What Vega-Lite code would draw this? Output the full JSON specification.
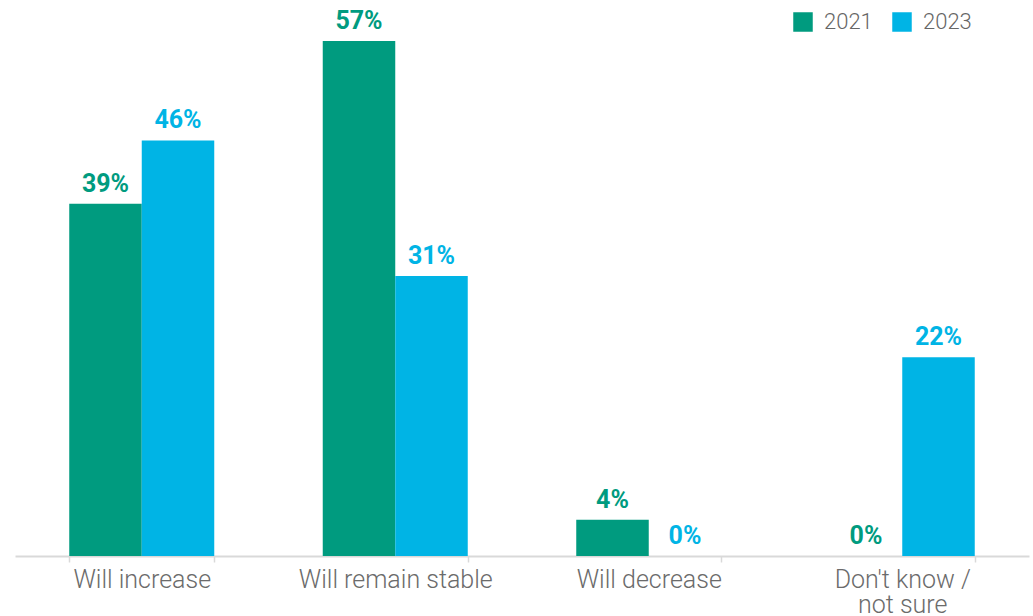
{
  "$schema": "https://vega.github.io/schema/vega-lite/v6.json",
  "width": 1014,
  "height": 542,
  "autosize": "none",
  "padding": {"left": 15, "top": 14, "right": 4, "bottom": 60},
  "background": "white",
  "config": {"view": {"stroke": null}, "font": "Roboto"},
  "data": {
    "values": [
      {"category": "Will increase", "year": "2021", "value": 39, "label": "39%"},
      {"category": "Will increase", "year": "2023", "value": 46, "label": "46%"},
      {"category": "Will remain stable", "year": "2021", "value": 57, "label": "57%"},
      {"category": "Will remain stable", "year": "2023", "value": 31, "label": "31%"},
      {"category": "Will decrease", "year": "2021", "value": 4, "label": "4%"},
      {"category": "Will decrease", "year": "2023", "value": 0, "label": "0%"},
      {"category": "Don't know / not sure", "year": "2021", "value": 0, "label": "0%"},
      {"category": "Don't know / not sure", "year": "2023", "value": 22, "label": "22%"}
    ]
  },
  "encoding": {
    "x": {
      "field": "category",
      "type": "nominal",
      "sort": null,
      "title": null,
      "scale": {"paddingInner": 0.428, "paddingOuter": 0.214},
      "axis": {
        "labelAngle": 0,
        "tickBand": "extent",
        "domainColor": "#d9d9d9",
        "domainWidth": 2,
        "tickColor": "#d9d9d9",
        "tickWidth": 1.5,
        "tickSize": 6,
        "labelFontSize": 25,
        "labelFont": "Roboto",
        "labelFontWeight": 300,
        "labelColor": "#6b6b6b",
        "labelPadding": 5,
        "labelLimit": 0,
        "labelLineHeight": 25,
        "labelOverlap": false,
        "labelExpr": "datum.label == \"Don't know / not sure\" ? [\"Don't know /\", \"not sure\"] : datum.label"
      }
    },
    "xOffset": {"field": "year", "type": "nominal"},
    "y": {
      "field": "value",
      "type": "quantitative",
      "scale": {"domain": [0, 60], "nice": false},
      "axis": null
    },
    "color": {
      "field": "year",
      "type": "nominal",
      "scale": {"domain": ["2021", "2023"], "range": ["#009B7F", "#00B4E5"]},
      "legend": {
        "title": null,
        "orient": "none",
        "legendX": 777,
        "legendY": -3,
        "direction": "horizontal",
        "symbolType": "square",
        "symbolSize": 380,
        "symbolStrokeWidth": 0,
        "symbolOpacity": 1,
        "labelFontSize": 22,
        "labelFontWeight": 300,
        "labelColor": "#666666",
        "labelOffset": 10,
        "columnPadding": 18
      }
    }
  },
  "layer": [
    {"mark": {"type": "bar"}},
    {
      "mark": {"type": "text", "dy": -12, "baseline": "alphabetic", "fontSize": 25, "fontWeight": "bold"},
      "encoding": {
        "text": {"field": "label", "type": "nominal"}
      }
    }
  ]
}
